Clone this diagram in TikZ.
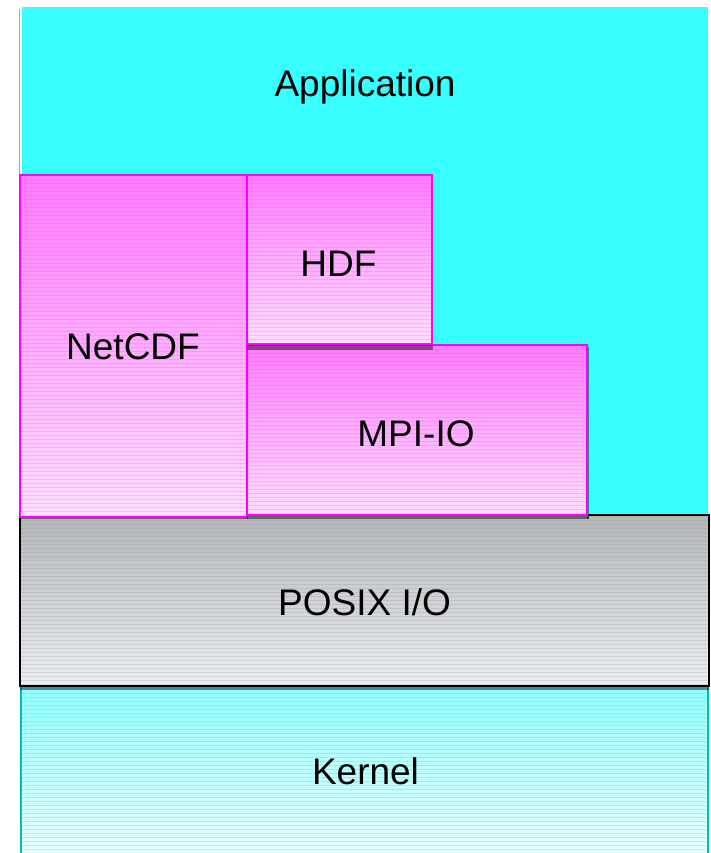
\documentclass[tikz,border=0pt]{standalone}
\usepackage{fontspec}
\setmainfont{Liberation Sans}
\definecolor{appcyan}{RGB}{56,255,255}
\definecolor{magtop}{RGB}{255,122,255}
\definecolor{magbot}{RGB}{255,222,255}
\definecolor{magline}{RGB}{255,0,255}
\definecolor{graytop}{RGB}{182,182,182}
\definecolor{graybot}{RGB}{238,238,238}
\definecolor{kertop}{RGB}{145,255,255}
\definecolor{kerbot}{RGB}{232,255,255}
\definecolor{kerline}{RGB}{0,190,190}
\definecolor{stripe}{RGB}{120,140,170}
\tikzset{
  layer/.style={rectangle, anchor=north west, inner sep=0pt, outer sep=0pt},
  libbox/.style={layer, draw=magline, line width=2pt, top color=magtop, bottom color=magbot},
  posixbox/.style={layer, draw=black, line width=2pt, top color=graytop, bottom color=graybot},
  kernelbox/.style={layer, top color=kertop, bottom color=kerbot},
  dropshadow/.style={fill=black, fill opacity=0.45, draw=none},
  lbl/.style={font=\fontsize{37}{40}\selectfont, text=black, inner sep=0pt, anchor=base},
}
% faint horizontal banding inside a box: x1, y1, x2, y2
\newcommand{\bands}[4]{%
  \pgfmathtruncatemacro\nbands{(#4-#2-3)/4}%
  \foreach \k in {0,...,\nbands}{%
    \draw[stripe, line width=0.6pt, opacity=0.22] (#1+1,#2+3+4*\k) -- (#3-1,#2+3+4*\k);}}
\begin{document}
\begin{tikzpicture}[x=1pt, y=-1pt]
\useasboundingbox (0,0) rectangle (710,853);
\fill[white] (0,0) rectangle (710,853);

% application layer
\node[layer, fill=appcyan, minimum width=686pt, minimum height=510pt] (app) at (22,7) {};
\draw[gray!70, line width=1pt] (19.5,9) -- (19.5,175);
\node[lbl] (applbl) at (365,97) {Application};

% kernel layer
\node[kernelbox, minimum width=689pt, minimum height=170pt] (kernel) at (20,686) {};
\bands{20}{690}{707}{853}
\draw[kerline, line width=2pt] (kernel.north east) ++(-1,0) -- ++(0,170);
\draw[kerline, line width=2pt] (kernel.north west) ++(1,0) -- ++(0,170);
\node[lbl] (kerlbl) at (365.5,784) {Kernel};

% POSIX layer
\fill[dropshadow] (20,686) rectangle (709,690);
\node[posixbox, minimum width=689pt, minimum height=171pt] (posix) at (20,515) {};
\bands{20}{517}{708}{684}
\node[lbl] (posixlbl) at (364.5,615) {POSIX I/O};

% NetCDF
\fill[dropshadow] (20,515) rectangle (248,519);
\node[libbox, minimum width=227pt, minimum height=342pt] (netcdf) at (20,175) {};
\bands{20}{176}{247}{516}
\node[lbl] (netcdflbl) at (133,359) {NetCDF};

% MPI-IO
\fill[dropshadow] (247,515) rectangle (589,519);
\fill[dropshadow] (587,347) rectangle (589,519);
\node[libbox, minimum width=340pt, minimum height=170pt] (mpiio) at (247,345) {};
\bands{247}{346}{587}{514}
\node[lbl] (mpiiolbl) at (416,446) {MPI-IO};

% HDF
\fill[dropshadow] (247,345) rectangle (433,350);
\node[libbox, minimum width=185pt, minimum height=169pt] (hdf) at (247,175) {};
\bands{247}{176}{432}{344}
\node[lbl] (hdflbl) at (338.5,276) {HDF};
\end{tikzpicture}
\end{document}
